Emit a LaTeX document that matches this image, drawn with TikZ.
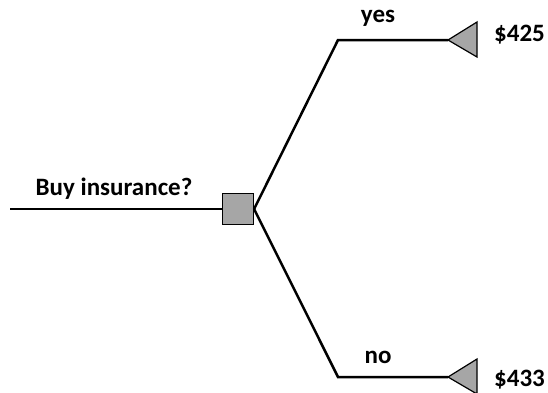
\documentclass[tikz,border=0pt]{standalone}
\usepackage{fontspec}
\setmainfont{Carlito}
\usetikzlibrary{positioning}

\begin{document}
\begin{tikzpicture}[x=1pt,y=-1pt,font=\fontsize{25}{30}\selectfont\bfseries,
   branch/.style={line width=2.5pt},
   decision/.style={draw,line width=1.2pt,fill=gray!70,minimum size=31pt,inner sep=0pt},
   payoff/.style={draw,line width=1.2pt,fill=gray!70,line join=miter}]
  \useasboundingbox (0,0) rectangle (548,392);
  \coordinate (start) at (10,209);
  \node[decision] (buy) at (238,209) {};
  \coordinate (yescorner) at (338,40);
  \coordinate (nocorner) at (338,377);
  \coordinate (yesend) at (448,40);
  \coordinate (noend) at (448,377);
  \draw[branch] (start) -- (buy.west);
  \draw[branch] (buy.east) -- (yescorner) -- (yesend);
  \draw[branch] (buy.east) -- (nocorner) -- (noend);
  % payoff triangles
  \draw[payoff] (yesend) -- ++(29,-18) -- ++(0,35) -- cycle;
  \draw[payoff] (noend) -- ++(29,-18) -- ++(0,35) -- cycle;
  \node (q) at (114,189) {Buy insurance?};
  \node (yes) at (378,18) {yes};
  \node (no) at (378,357) {no};
  \node[anchor=west,inner sep=0pt] (v1) at (494,35) {\$425};
  \node[anchor=west,inner sep=0pt] (v2) at (494,380) {\$433};
\end{tikzpicture}
\end{document}
